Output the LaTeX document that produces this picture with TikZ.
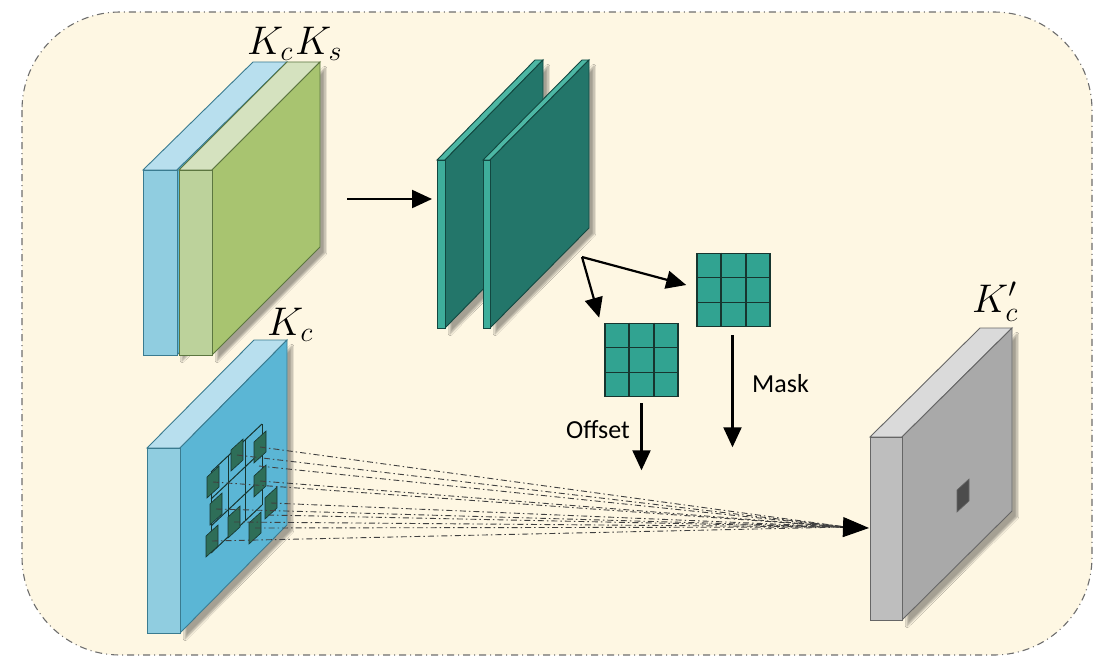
\RequirePackage{fix-cm}
\documentclass[tikz,border=0pt]{standalone}
\usepackage{fontspec}
\setsansfont{Carlito}
\usetikzlibrary{arrows.meta,shadows.blur,calc}

\definecolor{paper}{HTML}{FEF7E3}
\definecolor{frameline}{HTML}{6E6E6E}
\definecolor{bluefront}{HTML}{90CDE0}
\definecolor{blueside}{HTML}{5BB6D5}
\definecolor{bluetop}{HTML}{B8DFEE}
\definecolor{blueedge}{HTML}{3A7B90}
\definecolor{greenfront}{HTML}{BCD29B}
\definecolor{greenside}{HTML}{A8C470}
\definecolor{greentop}{HTML}{D5E2BF}
\definecolor{greenedge}{HTML}{5C7640}
\definecolor{tealfront}{HTML}{3EAE9B}
\definecolor{tealside}{HTML}{23766A}
\definecolor{tealtop}{HTML}{4DB7A4}
\definecolor{tealedge}{HTML}{124740}
\definecolor{grayfront}{HTML}{BEBEBE}
\definecolor{grayside}{HTML}{A9A9A9}
\definecolor{graytop}{HTML}{DADADA}
\definecolor{grayedge}{HTML}{666666}
\definecolor{gridfill}{HTML}{31A391}
\definecolor{griddark}{HTML}{17352F}
\definecolor{patch}{HTML}{2E6E58}

\tikzset{
  arr/.style={line width=2.2pt, -{Triangle[length=20pt,width=18pt]}},
  lab/.style={inner sep=0pt, font=\fontsize{40}{48}\selectfont},
  word/.style={inner sep=0pt, font=\sffamily\fontsize{26}{30}\selectfont},
  kernel/.style={draw=griddark, fill=gridfill, line width=1.6pt, minimum size=73pt, inner sep=0pt},
  ray/.style={draw=black!75, line width=0.9pt, dash pattern=on 6pt off 3pt on 1.5pt off 3pt},
}

% slab: x, y (front top-left), width, height, dx, dy (depth), side, top, front colour
\newcommand\slabbox[9]{%
  \begin{scope}[shift={(#1,#2)}]
    \fill[#9!30, blur shadow={shadow xshift=5pt, shadow yshift=-6pt, shadow blur steps=8, shadow opacity=35}]
      (#3,0) -- ({#3+#5},{#6}) -- ({#3+#5},{#4+#6}) -- (#3,#4) -- cycle;
    \filldraw[fill=#8, draw=edgecol, line width=0.9pt]
      (0,0) -- ({#5},{#6}) -- ({#3+#5},{#6}) -- (#3,0) -- cycle;
    \filldraw[fill=#7, draw=edgecol, line width=0.9pt]
      (#3,0) -- ({#3+#5},{#6}) -- ({#3+#5},{#4+#6}) -- (#3,#4) -- cycle;
    \filldraw[fill=#9, draw=edgecol, line width=0.9pt] (0,0) rectangle (#3,#4);
  \end{scope}}

\begin{document}
\begin{tikzpicture}[x=1pt,y=-1pt]
\useasboundingbox (0,0) rectangle (1095,661);

% frame
\filldraw[fill=paper, draw=frameline, line width=1.1pt, dash pattern=on 7pt off 4pt on 1pt off 4pt,
  rounded corners=98pt] (22,12) rectangle (1092,655);

% input pair K_c / K_s
\colorlet{edgecol}{blueedge}
\slabbox{143}{170}{34}{185}{110}{-108}{blueside}{bluetop}{bluefront}
\colorlet{edgecol}{greenedge}
\slabbox{179}{170}{33}{185}{108}{-108}{greenside}{greentop}{greenfront}
\node[lab, anchor=base west] (kc1) at (247,55) {$K_c$};
\node[lab, anchor=base west] (ks) at (295,55) {$K_s$};

% feature maps
\colorlet{edgecol}{tealedge}
\slabbox{437}{160}{8}{168}{98}{-100}{tealside}{tealtop}{tealfront}
\slabbox{483}{160}{7}{168}{99}{-100}{tealside}{tealtop}{tealfront}

% lower K_c
\colorlet{edgecol}{blueedge}
\slabbox{147}{448}{33}{185}{107}{-108}{blueside}{bluetop}{bluefront}
\node[lab, anchor=base west] (kc2) at (267,335) {$K_c$};

% output K'_c
\colorlet{edgecol}{grayedge}
\slabbox{870}{437}{32}{183}{110}{-109}{grayside}{graytop}{grayfront}
\node[lab, anchor=base west] (kcp) at (972,312) {$K'_c$};
\fill[gray!60!black, draw=black!60, line width=0.6pt]
  (957,490) -- (969,479) -- (969,501) -- (957,512) -- cycle;

% sampling grid on the lower K_c face
\coordinate (g0) at (211,472);
\foreach \i in {0,...,3} {
  \draw[griddark, line width=1pt] ($(g0)+(\i*17,-\i*16)$) -- ++(0,81);
  \draw[griddark, line width=1pt] ($(g0)+(0,\i*27)$) -- ++(51,-48);
}
% deformed sampling positions
\foreach \cx/\cy [count=\k] in {213/482, 237/455, 260/447, 216/509, 260/481, 271/503, 212/541, 234/522, 255/528} {
  \coordinate (s\k) at (\cx,\cy);
  \filldraw[fill=patch, draw=griddark, line width=0.6pt]
    (\cx-6,\cy-5) -- (\cx+6,\cy-16) -- (\cx+6,\cy+5) -- (\cx-6,\cy+16) -- cycle;
}
\coordinate (meet) at (846,527);
\foreach \k in {1,...,9} \draw[ray] (s\k) -- (meet);
\draw[ray] (259,466) -- (meet);
\draw[ray] (268,515) -- (meet);
\coordinate (hit) at (869,528);
\draw[line width=1pt, -{Triangle[length=26pt,width=20pt]}] (840,527) -- (hit);

% arrow into the feature maps
\coordinate (a0) at (347,199);
\coordinate (a1) at (432,199);
\draw[arr] (a0) -- (a1);

% offset and mask kernels
\node[kernel] (off) at (641.5,360) {};
\node[kernel] (mask) at (733.5,290) {};
\foreach \n in {off,mask} {
  \foreach \t in {1,2} {
    \draw[griddark, line width=1.6pt] ($(\n.north west)!\t/3!(\n.north east)$) -- ($(\n.south west)!\t/3!(\n.south east)$);
    \draw[griddark, line width=1.6pt] ($(\n.north west)!\t/3!(\n.south west)$) -- ($(\n.north east)!\t/3!(\n.south east)$);
  }
}
\coordinate (fork) at (582,257);
\draw[arr] (fork) -- ($(off.north west)+(-5,-5)$);
\draw[arr] (fork) -- ($(mask.west)+(-10,-5)$);

\draw[arr] ($(off.south)+(0,6)$) -- ++(0,67);
\draw[arr] ($(mask.south)+(-1,8)$) -- ++(0,112);
\node[word, anchor=east] (offlab) at (630,430) {Offset};
\node[word, anchor=west] (masklab) at (752,384) {Mask};
\end{tikzpicture}
\end{document}
